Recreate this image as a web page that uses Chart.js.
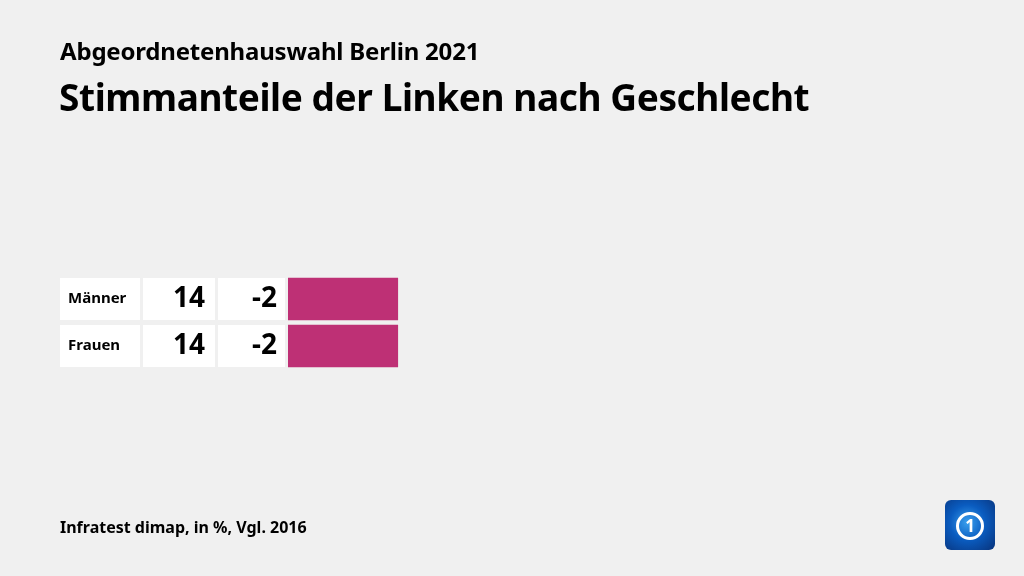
<!DOCTYPE html>
<html lang="de">
<head>
<meta charset="utf-8">
<title>Stimmanteile der Linken nach Geschlecht</title>
<script src="https://cdn.jsdelivr.net/npm/chart.js@4/dist/chart.umd.min.js"></script>
<style>
  html, body { margin: 0; padding: 0; background: #f0f0f0; }
  body { width: 1024px; height: 576px; position: relative; overflow: hidden; font-family: "Noto Sans", "Open Sans", sans-serif; color: #000; }
  #wrap { position: absolute; left: 0; top: 0; width: 1024px; height: 576px; }
  .sub { position: absolute; left: 60px; top: 34px; font-size: 24px; font-weight: 700; letter-spacing: -0.2px; }
  .title { position: absolute; left: 59px; top: 71px; font-size: 37px; font-weight: 700; letter-spacing: -0.4px; }
  .foot { position: absolute; left: 60px; top: 516px; font-size: 16px; font-weight: 700; }
  .logo { position: absolute; left: 945px; top: 500px; width: 50px; height: 50px; border-radius: 6px;
          background: radial-gradient(circle at 45% 45%, #3aa0ee 0%, #0a5cc0 45%, #08327a 100%); }
  .logo .ring { position: absolute; left: 11px; top: 12px; width: 22px; height: 22px; border: 3px solid #fff; border-radius: 50%;
          color: #fff; font: 700 17px/22px "Noto Sans", sans-serif; text-align: center; }
</style>
</head>
<body>
<div id="wrap"><canvas id="chart" width="1024" height="576"></canvas></div>
<div class="sub">Abgeordnetenhauswahl Berlin 2021</div>
<div class="title">Stimmanteile der Linken nach Geschlecht</div>
<div class="foot">Infratest dimap, in %, Vgl. 2016</div>
<div class="logo"><div class="ring">1</div></div>
<script>
const categories = ['Männer', 'Frauen'];
const shares = [14, 14];
const changes = [-2, -2];

// white table cells left of the bars
const tableCells = {
  id: 'tableCells',
  beforeDatasetsDraw(chart) {
    const ctx = chart.ctx;
    const meta = chart.getDatasetMeta(0);
    ctx.save();
    meta.data.forEach((bar, i) => {
      const top = bar.y - bar.height / 2;
      const h = bar.height;
      ctx.fillStyle = '#ffffff';
      ctx.fillRect(60, top, 80, h);
      ctx.fillRect(143, top, 72, h);
      ctx.fillRect(218, top, 67, h);
      ctx.fillStyle = '#000';
      ctx.textBaseline = 'middle';
      ctx.textAlign = 'left';
      ctx.font = '700 15px "Noto Sans", sans-serif';
      ctx.fillText(categories[i], 68, bar.y);
      ctx.textAlign = 'right';
      ctx.font = '700 28px "Noto Sans", sans-serif';
      ctx.fillText(String(shares[i]), 205, bar.y);
      ctx.fillText(String(changes[i]), 277, bar.y);
    });
    ctx.restore();
  }
};

new Chart(document.getElementById('chart'), {
  type: 'bar',
  data: {
    labels: categories,
    datasets: [{
      label: 'Stimmanteil',
      data: shares,
      backgroundColor: '#be3075',
      barThickness: 42
    }]
  },
  options: {
    indexAxis: 'y',
    responsive: false,
    animation: false,
    layout: { padding: { left: 288, right: 344, top: 275.5, bottom: 206.5 } },
    scales: {
      x: { display: false, min: 0, max: 50 },
      y: { display: false }
    },
    plugins: { legend: { display: false }, tooltip: { enabled: false } }
  },
  plugins: [tableCells]
});
</script>
</body>
</html>
